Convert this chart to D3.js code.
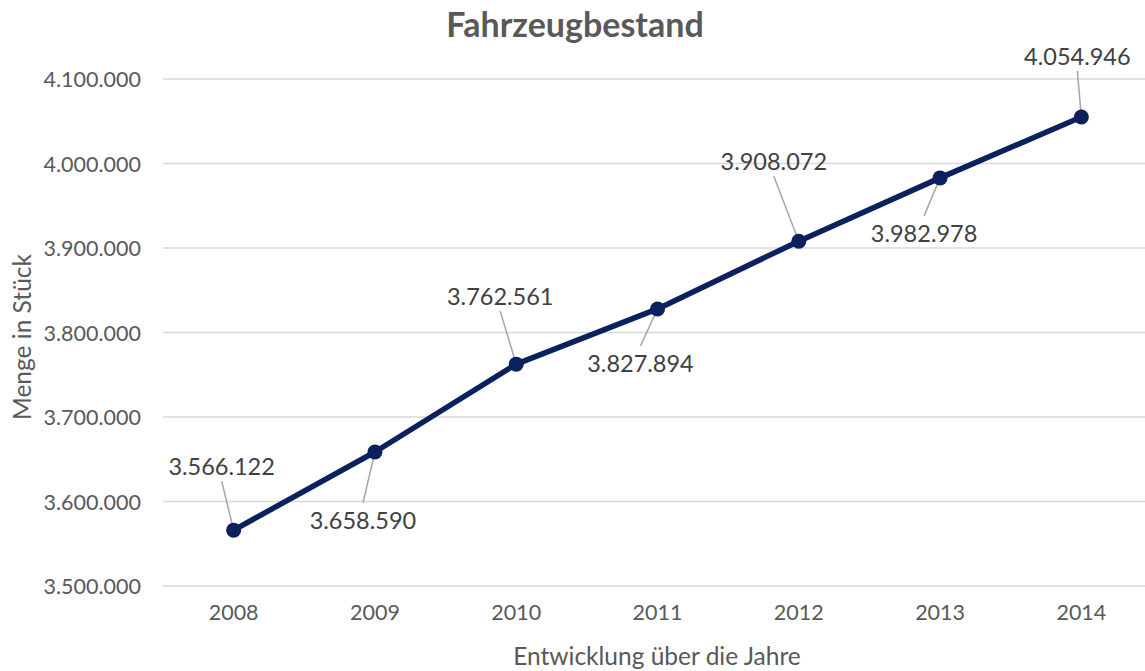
<!DOCTYPE html>
<html>
<head>
<meta charset="utf-8" />
<script src="https://d3js.org/d3.v7.min.js"></script>
<style>
    body { margin: 0; background: #fff; }
    svg text { font-family: Lato, "Open Sans", sans-serif; }
    .grid line { stroke: #d9d9d9; stroke-width: 1.5px; }
    .axis text { fill: #595959; font-size: 21.5px; }
    .lbl { fill: #404040; font-size: 23.5px; }
</style>
</head>
<body>
<svg width="1145" height="671"></svg>
<script>
// data
var years = ["2008", "2009", "2010", "2011", "2012", "2013", "2014"];
var bestand = [3566122, 3658590, 3762561, 3827894, 3908072, 3982978, 4054946];
var yTicks = [3500000, 3600000, 3700000, 3800000, 3900000, 4000000, 4100000];
// where each data label sits relative to its point (above / below)
var labelPlace = [[-12, -63], [-12, 69], [-16, -67], [-17, 55], [-25, -79], [-16, 56], [-4, -60]];

var svg = d3.select("svg");
var plotLeft = 163, plotRight = 1152, plotTop = 79, plotBottom = 586;

var x = d3.scaleBand().domain(years).range([plotLeft, plotRight]);
var y = d3.scaleLinear().domain([3500000, 4100000]).range([plotBottom, plotTop]);

var fmt = d3.formatLocale({ decimal: ",", thousands: ".", grouping: [3], currency: ["", "€"] }).format(",d");

// gridlines
svg.append("g").attr("class", "grid")
    .selectAll("line").data(yTicks).enter().append("line")
    .attr("x1", plotLeft).attr("x2", plotRight)
    .attr("y1", function (d) { return y(d); })
    .attr("y2", function (d) { return y(d); });

// y axis labels
var yAxis = svg.append("g").attr("class", "axis")
    .attr("transform", "translate(" + (plotLeft - 22) + ",0)")
    .call(d3.axisLeft(y).tickValues(yTicks).tickFormat(fmt).tickSize(0).tickPadding(0));
yAxis.select(".domain").remove();
yAxis.selectAll("text").attr("dy", "0.35em");

// x axis labels
var xAxis = svg.append("g").attr("class", "axis")
    .attr("transform", "translate(0," + (plotBottom + 19) + ")")
    .call(d3.axisBottom(x).tickSize(0).tickPadding(0));
xAxis.select(".domain").remove();
xAxis.selectAll("text").attr("dy", "0.71em");

// titles
svg.append("text")
    .attr("x", 575).attr("y", 37)
    .attr("text-anchor", "middle")
    .style("font-size", "34px").style("font-weight", "bold").style("fill", "#595959")
    .text("Fahrzeugbestand");

svg.append("text")
    .attr("x", 657).attr("y", 665)
    .attr("text-anchor", "middle")
    .style("font-size", "24.5px").style("fill", "#595959")
    .text("Entwicklung über die Jahre");

svg.append("text")
    .attr("transform", "translate(31,337) rotate(-90)")
    .attr("text-anchor", "middle")
    .style("font-size", "24.5px").style("fill", "#595959")
    .text("Menge in Stück");

var pts = years.map(function (yr, i) {
    return { x: x(yr) + x.bandwidth() / 2, y: y(bestand[i]), v: bestand[i], o: labelPlace[i] };
});

// leader lines
svg.append("g").selectAll("line").data(pts).enter().append("line")
    .attr("x1", function (d) { return d.x; })
    .attr("y1", function (d) { return d.y; })
    .attr("x2", function (d) { return d.x + d.o[0]; })
    .attr("y2", function (d) { return d.y + d.o[1] + (d.o[1] < 0 ? 14 : -18); })
    .attr("stroke", "#a6a6a6").attr("stroke-width", 1.5);

// line
svg.append("path").datum(pts)
    .attr("fill", "none").attr("stroke", "#0b215e").attr("stroke-width", 5.5)
    .attr("stroke-linejoin", "round")
    .attr("d", d3.line().x(function (d) { return d.x; }).y(function (d) { return d.y; }));

svg.append("g").selectAll("circle").data(pts).enter().append("circle")
    .attr("cx", function (d) { return d.x; })
    .attr("cy", function (d) { return d.y; })
    .attr("r", 7.5).attr("fill", "#0b215e");

// data labels
svg.append("g").selectAll("text").data(pts).enter().append("text")
    .attr("class", "lbl")
    .attr("x", function (d) { return d.x + d.o[0]; })
    .attr("y", function (d) { return d.y + d.o[1]; })
    .attr("dy", "0.35em")
    .attr("text-anchor", "middle")
    .text(function (d) { return fmt(d.v); });
</script>
</body>
</html>
